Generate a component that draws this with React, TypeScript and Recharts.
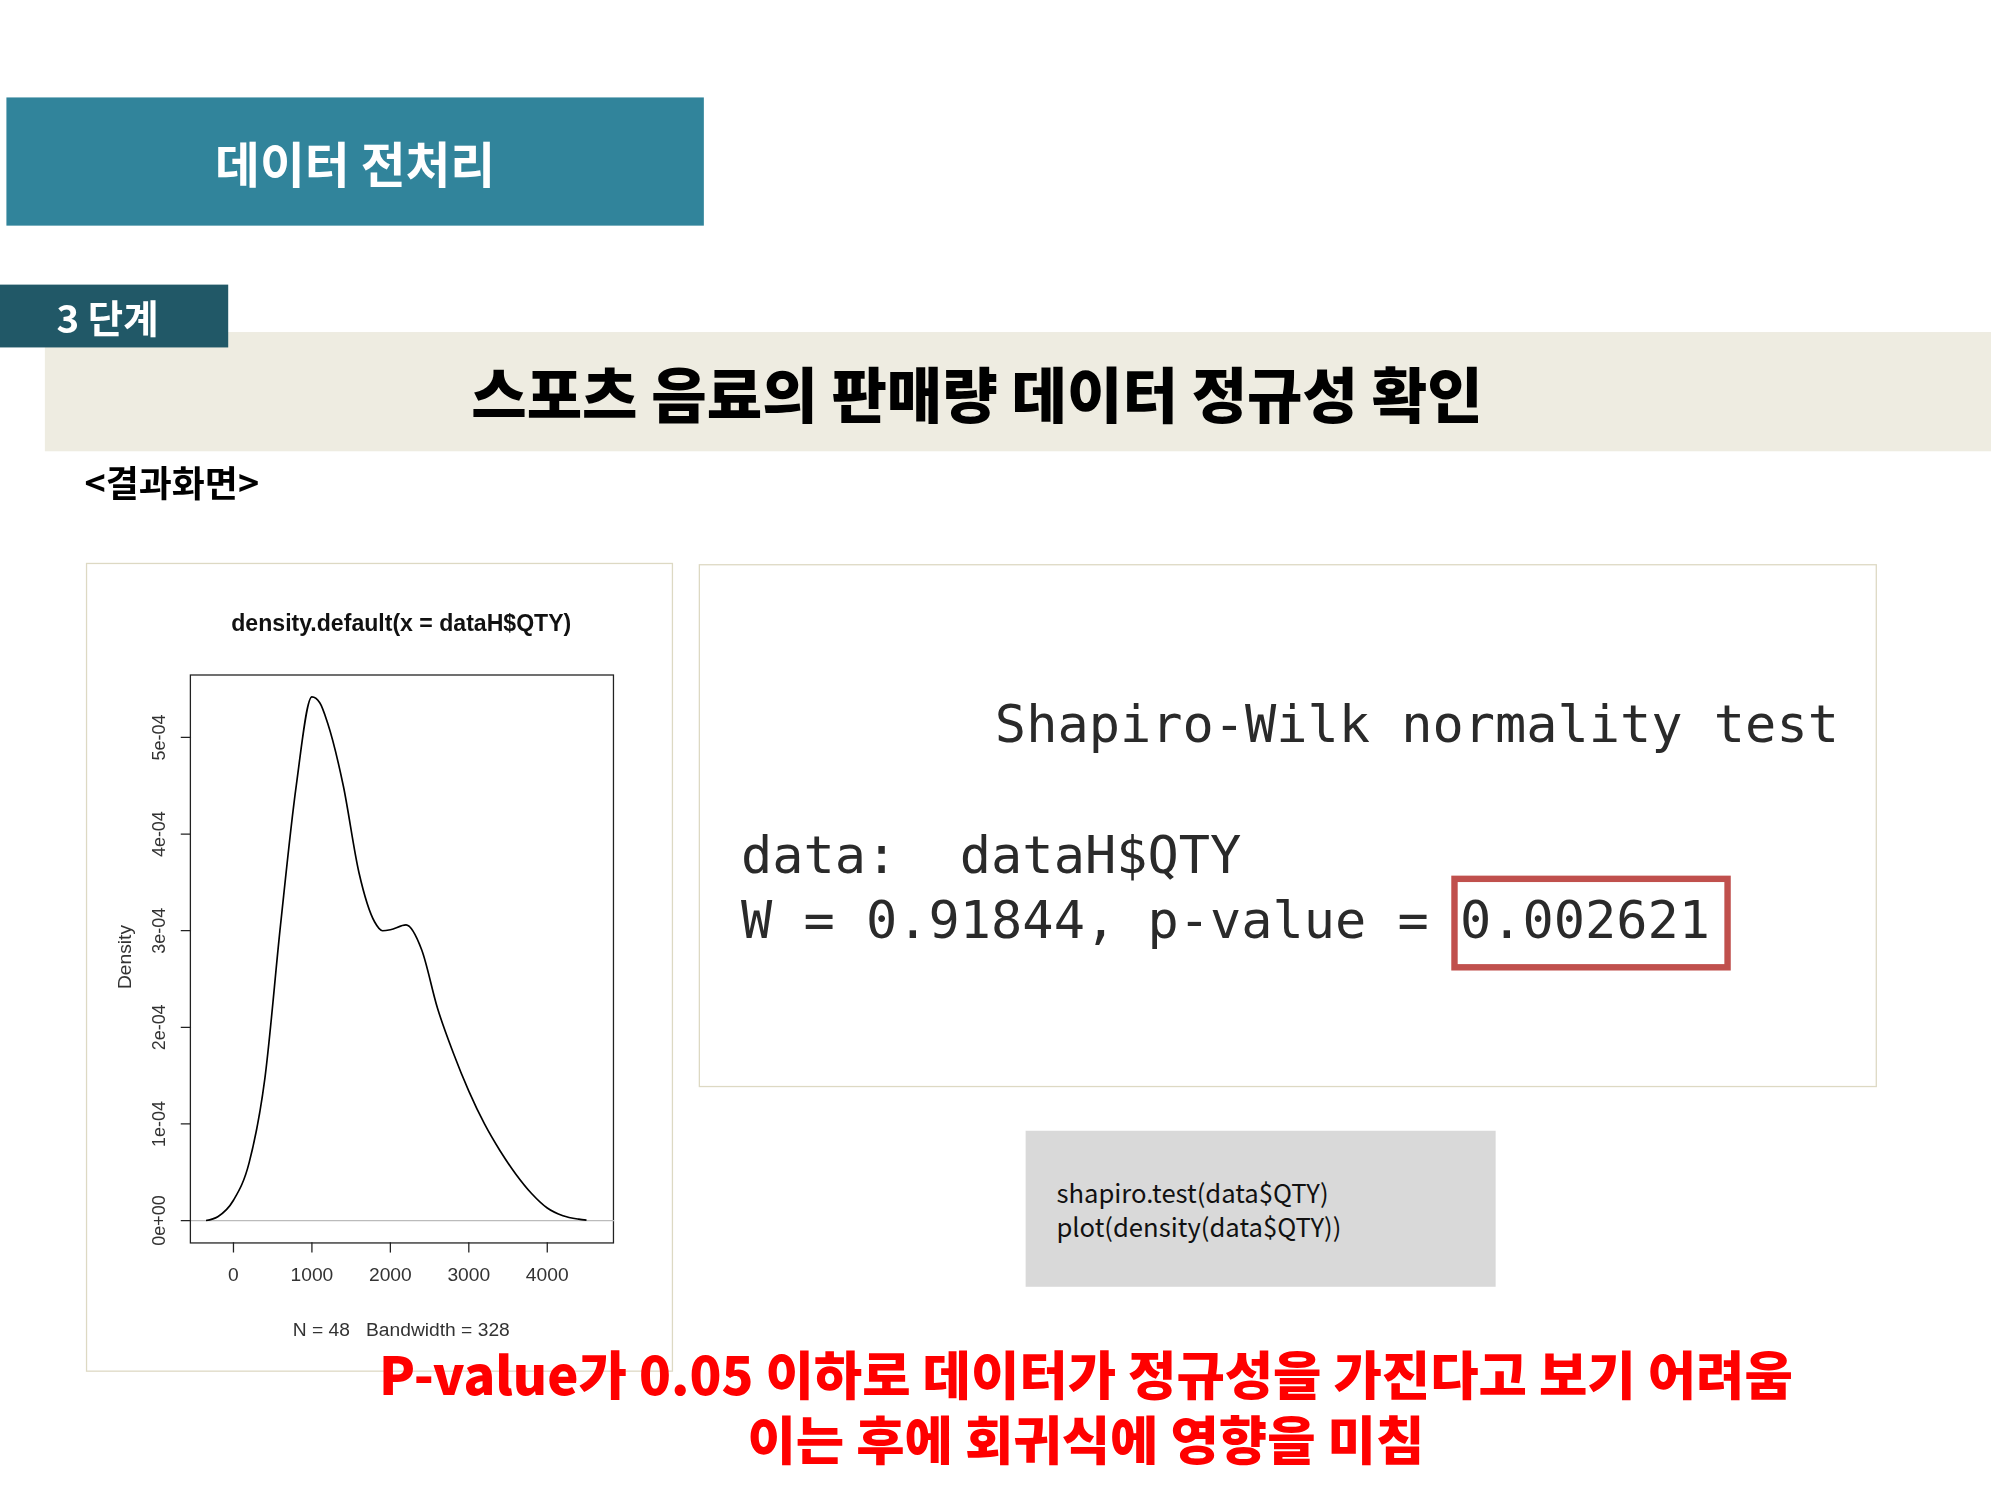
import React from 'react';
import { LineChart, Line, XAxis, YAxis, ReferenceLine } from 'recharts';

const qty = [-350, -200, 0, 200, 400, 600, 800, 1000, 1100, 1200, 1400, 1600, 1800, 1900, 2000, 2200, 2400, 2600, 2800, 3000, 3200, 3400, 3600, 3800, 4000, 4200, 4400, 4500];
const density = [0.001e-4, 0.04e-4, 0.21e-4, 0.6e-4, 1.47e-4, 3.06e-4, 4.5e-4, 5.42e-4, 5.36e-4, 5.15e-4, 4.5e-4, 3.6e-4, 3.09e-4, 3.0e-4, 3.01e-4, 3.06e-4, 2.8e-4, 2.2e-4, 1.74e-4, 1.34e-4, 1.0e-4, 0.72e-4, 0.48e-4, 0.28e-4, 0.13e-4, 0.05e-4, 0.015e-4, 0.005e-4];
const xTicks = [0, 1000, 2000, 3000, 4000];
const yTicks = [0, 1e-4, 2e-4, 3e-4, 4e-4, 5e-4];
const yTickLabels = ['0e+00', '1e-04', '2e-04', '3e-04', '4e-04', '5e-04'];

const data = qty.map((q, i) => ({ q, d: density[i] }));

const KR = '"Noto Sans CJK KR", sans-serif';
const MONO = '"DejaVu Sans Mono", monospace';
const ARIAL = '"Liberation Sans", Arial, sans-serif';

const YTick = (props: any) => {
  const { x, y, payload } = props;
  const i = yTicks.indexOf(payload.value);
  return (
    <text x={x - 10} y={y} transform={`rotate(-90 ${x - 10} ${y})`} textAnchor="middle" fontSize={14} fontFamily={ARIAL} fill="#333">
      {yTickLabels[i]}
    </text>
  );
};

const XTick = (props: any) => {
  const { x, y, payload } = props;
  return (
    <text x={x} y={y + 20} textAnchor="middle" fontSize={15} fontFamily={ARIAL} fill="#333">
      {payload.value}
    </text>
  );
};

const abs = (l: number, t: number, w: number, h: number): React.CSSProperties => ({ position: 'absolute', left: l, top: t, width: w, height: h, boxSizing: 'border-box' });

export default function App() {
  return (
    <div style={{ position: 'absolute', left: 0, top: 0, width: 2000, height: 1500, overflow: 'hidden', background: '#fff' }}>
      <div style={{ position: 'relative', width: 1560, height: 1170, transform: `scale(${2000 / 1560})`, transformOrigin: '0 0', fontFamily: KR }}>
        <div style={{ ...abs(5, 76, 544, 100), background: '#31849b', color: '#fff', fontSize: 38, fontWeight: 700, display: 'flex', alignItems: 'center', justifyContent: 'center' }}>데이터 전처리</div>
        <div style={{ ...abs(35, 259, 1518, 93), background: '#eeece1', color: '#000', fontSize: 47, fontWeight: 900, display: 'flex', alignItems: 'center', justifyContent: 'center', paddingRight: 64 }}>스포츠 음료의 판매량 데이터 정규성 확인</div>
        <div style={{ ...abs(0, 222, 178, 49), background: '#215867', color: '#fff', fontSize: 30, fontWeight: 700, display: 'flex', alignItems: 'center', paddingLeft: 44 }}>3 단계</div>
        <div style={{ ...abs(66, 356, 200, 44), fontSize: 28, fontWeight: 700, color: '#000' }}>&lt;결과화면&gt;</div>

        <div style={{ ...abs(67, 439, 458, 631), border: '1px solid #ddd9c3' }}>
          <div style={{ position: 'absolute', left: 0, width: 490, top: 36, textAlign: 'center', fontFamily: '"Liberation Sans Narrow", ' + ARIAL, fontWeight: 700, fontSize: 18, color: '#111' }}>density.default(x = dataH$QTY)</div>
          <div style={{ ...abs(80, 86, 331, 444), border: '1.5px solid #222' }} />
          <div style={{ position: 'absolute', left: 4, top: 298, transform: 'rotate(-90deg)', fontFamily: ARIAL, fontSize: 15, color: '#333' }}>Density</div>
          <div style={{ position: 'absolute', left: 0, width: 490, top: 588, textAlign: 'center', fontFamily: '"Liberation Sans Narrow", ' + ARIAL, fontSize: 15, color: '#333' }}>N = 48&nbsp;&nbsp;&nbsp;Bandwidth = 328</div>
          <div style={{ position: 'absolute', left: 0, top: 0 }}>
            <LineChart width={458} height={630} data={data} margin={{ top: 87, right: 47, bottom: 41, left: 31 }}>
              <XAxis dataKey="q" type="number" domain={[-541, 4852]} allowDataOverflow ticks={xTicks} axisLine={false} tickLine={{ stroke: '#222' }} tickSize={8} height={60} tick={<XTick />} />
              <YAxis type="number" domain={[-2.25e-5, 5.64e-4]} allowDataOverflow ticks={yTicks} axisLine={false} tickLine={{ stroke: '#222' }} tickSize={8} width={50} tick={<YTick />} />
              <ReferenceLine y={0} stroke="#bbb" strokeWidth={1} />
              <Line type="monotone" dataKey="d" stroke="#000" strokeWidth={1.3} dot={false} isAnimationActive={false} />
            </LineChart>
          </div>
        </div>

        <div style={{ ...abs(545, 440, 919, 408), border: '1px solid #ddd9c3', fontFamily: MONO, fontSize: 40.5, color: '#2a2a2a', whiteSpace: 'pre' }}>
          <div style={{ position: 'absolute', left: 230, top: 100 }}>Shapiro-Wilk normality test</div>
          <div style={{ position: 'absolute', left: 32, top: 202 }}>data:  dataH$QTY</div>
          <div style={{ position: 'absolute', left: 32, top: 253 }}>W = 0.91844, p-value = 0.002621</div>
          <div style={{ ...abs(586, 242, 218, 74), border: '5px solid #c0504d' }} />
        </div>

        <div style={{ ...abs(800, 882, 366, 121), background: '#d9d9d9', fontSize: 20, color: '#111', padding: '34px 0 0 24px', lineHeight: '27px' }}>
          <div>shapiro.test(data$QTY)</div>
          <div>plot(density(data$QTY))</div>
        </div>

        <div style={{ position: 'absolute', left: 0, width: 1694, top: 1045, textAlign: 'center', color: '#ff0000', fontSize: 41, fontWeight: 900, lineHeight: '51px' }}>
          <div>P-value가 0.05 이하로 데이터가 정규성을 가진다고 보기 어려움</div>
          <div>이는 후에 회귀식에 영향을 미침</div>
        </div>
      </div>
    </div>
  );
}
